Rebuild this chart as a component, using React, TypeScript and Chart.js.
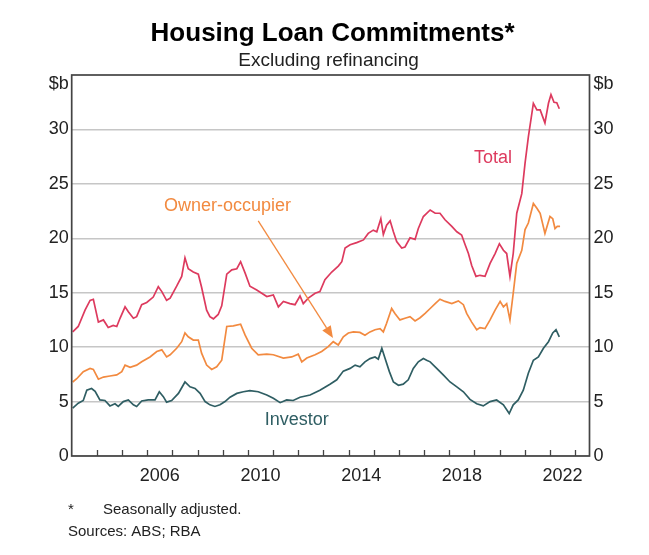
import React, { useEffect, useRef } from "react";
import { Chart, registerables } from "chart.js";

Chart.register(...registerables);

const FONT = "'Liberation Sans', Arial, Helvetica, sans-serif";

const TITLE = "Housing Loan Commitments*";
const SUBTITLE = "Excluding refinancing";
const FOOT_MARK = "*";
const FOOT_NOTE = "Seasonally adjusted.";
const SOURCES = "Sources: ABS; RBA";
const UNIT_LABEL = "$b";

const yTicks = [0, 5, 10, 15, 20, 25, 30];
const xLabelYears = [2006, 2010, 2014, 2018, 2022];
const xTickYears = [2004, 2005, 2006, 2007, 2008, 2009, 2010, 2011, 2012, 2013, 2014, 2015, 2016, 2017, 2018, 2019, 2020, 2021, 2022, 2023];

const COLOR_TOTAL = "#DD3A5E";
const COLOR_OO = "#F28A40";
const COLOR_INV = "#2F5E63";
const AXIS_COLOR = "#444444";
const GRID_COLOR = "#c6c6c6";
const TEXT_COLOR = "#222222";

const totalYears = [2003.04,2003.26,2003.53,2003.73,2003.86,2004.06,2004.26,2004.45,2004.65,2004.79,2004.92,2005.12,2005.25,2005.45,2005.58,2005.78,2005.98,2006.24,2006.44,2006.58,2006.77,2006.91,2007.17,2007.37,2007.50,2007.63,2007.83,2008.03,2008.16,2008.36,2008.49,2008.63,2008.82,2008.96,2009.16,2009.36,2009.56,2009.71,2009.89,2010.08,2010.35,2010.55,2010.75,2011.01,2011.21,2011.41,2011.67,2011.87,2012.07,2012.20,2012.40,2012.67,2012.86,2013.06,2013.33,2013.59,2013.73,2013.86,2014.06,2014.32,2014.59,2014.78,2014.98,2015.12,2015.28,2015.38,2015.51,2015.65,2015.78,2015.91,2016.11,2016.24,2016.44,2016.64,2016.77,2016.97,2017.24,2017.44,2017.63,2017.83,2018.10,2018.30,2018.49,2018.63,2018.76,2018.89,2019.06,2019.22,2019.42,2019.62,2019.82,2019.99,2020.15,2020.28,2020.41,2020.54,2020.68,2020.88,2021.01,2021.14,2021.34,2021.48,2021.61,2021.80,2021.94,2022.04,2022.16,2022.27,2022.37];
const totalValues = [11.4,11.9,13.4,14.3,14.4,12.3,12.5,11.8,12.0,11.9,12.65,13.7,13.25,12.65,12.8,13.9,14.1,14.6,15.55,15.1,14.3,14.5,15.6,16.5,18.2,17.2,16.9,16.7,15.5,13.4,12.8,12.6,13.0,13.8,16.7,17.1,17.2,17.85,16.8,15.6,15.25,14.95,14.65,14.8,13.7,14.2,14.0,13.9,14.7,14.0,14.5,14.95,15.1,16.2,16.9,17.45,17.85,19.1,19.4,19.6,19.85,20.45,20.75,20.6,21.8,20.35,21.2,21.6,20.6,19.7,19.1,19.2,20.05,19.9,20.9,22.0,22.6,22.3,22.3,21.7,21.1,20.6,20.3,19.4,18.6,17.5,16.5,16.6,16.5,17.7,18.6,19.5,18.9,18.6,16.5,18.6,22.3,24.1,26.9,29.3,32.4,31.8,31.8,30.6,32.4,33.2,32.5,32.45,31.9];

const ooYears = [2003.04,2003.20,2003.46,2003.73,2003.86,2004.06,2004.26,2004.52,2004.79,2004.99,2005.12,2005.32,2005.58,2005.78,2006.11,2006.38,2006.58,2006.77,2006.91,2007.17,2007.37,2007.50,2007.63,2007.83,2008.03,2008.16,2008.36,2008.56,2008.76,2008.96,2009.16,2009.42,2009.71,2009.89,2010.15,2010.41,2010.75,2011.01,2011.41,2011.74,2012.00,2012.14,2012.34,2012.67,2012.93,2013.19,2013.39,2013.59,2013.79,2013.99,2014.19,2014.45,2014.65,2014.85,2015.05,2015.25,2015.38,2015.51,2015.71,2015.84,2016.04,2016.24,2016.44,2016.64,2016.84,2017.04,2017.24,2017.44,2017.63,2017.83,2018.10,2018.36,2018.56,2018.69,2018.89,2019.09,2019.22,2019.42,2019.62,2019.82,2020.02,2020.15,2020.28,2020.41,2020.54,2020.68,2020.88,2021.01,2021.14,2021.34,2021.48,2021.61,2021.80,2022.00,2022.11,2022.20,2022.29,2022.40];
const ooValues = [6.8,7.1,7.75,8.05,7.95,7.05,7.25,7.35,7.45,7.75,8.35,8.15,8.35,8.65,9.1,9.6,9.75,9.1,9.3,9.9,10.5,11.3,10.95,10.65,10.65,9.45,8.35,7.95,8.2,8.8,11.9,11.95,12.1,11.1,9.9,9.3,9.35,9.3,9.0,9.1,9.35,8.65,9.0,9.3,9.6,10.05,10.5,10.2,10.95,11.3,11.4,11.35,11.1,11.4,11.6,11.7,11.4,12.2,13.55,13.1,12.5,12.65,12.8,12.4,12.7,13.1,13.55,14.0,14.4,14.2,14.0,14.25,13.9,13.1,12.3,11.6,11.8,11.7,12.5,13.4,14.2,13.7,14.0,12.5,14.95,17.7,18.9,20.8,21.4,23.2,22.75,22.3,20.45,22.0,21.8,20.9,21.1,21.1];

const invYears = [2003.04,2003.26,2003.46,2003.60,2003.79,2003.93,2004.12,2004.32,2004.52,2004.72,2004.85,2005.05,2005.25,2005.45,2005.58,2005.78,2006.04,2006.31,2006.48,2006.64,2006.77,2006.97,2007.24,2007.50,2007.70,2007.90,2008.10,2008.30,2008.49,2008.69,2008.89,2009.09,2009.29,2009.56,2009.82,2010.08,2010.41,2010.75,2011.01,2011.28,2011.54,2011.80,2012.07,2012.47,2012.86,2013.26,2013.53,2013.79,2014.06,2014.26,2014.45,2014.65,2014.85,2015.05,2015.18,2015.32,2015.45,2015.62,2015.78,2015.98,2016.17,2016.37,2016.57,2016.77,2016.97,2017.10,2017.24,2017.50,2017.76,2018.03,2018.30,2018.56,2018.82,2019.09,2019.35,2019.62,2019.88,2020.15,2020.38,2020.54,2020.74,2020.94,2021.14,2021.34,2021.54,2021.74,2021.94,2022.11,2022.24,2022.37];
const invValues = [4.4,4.85,5.1,6.05,6.2,5.95,5.15,5.1,4.6,4.8,4.55,5.0,5.15,4.7,4.55,5.05,5.15,5.15,5.9,5.45,4.95,5.1,5.75,6.8,6.35,6.2,5.75,5.0,4.7,4.55,4.7,5.0,5.4,5.75,5.9,6.0,5.9,5.6,5.3,4.9,5.15,5.1,5.4,5.6,6.05,6.6,7.0,7.8,8.05,8.35,8.2,8.65,8.95,9.1,8.9,9.9,8.95,7.75,6.8,6.5,6.6,7.0,8.05,8.65,8.95,8.8,8.65,8.05,7.45,6.8,6.35,5.9,5.2,4.8,4.6,5.0,5.15,4.7,3.9,4.7,5.15,6.05,7.6,8.8,9.1,9.9,10.5,11.3,11.6,10.95];

// series labels: [text, year, value, colour]
const seriesLabels: [string, number, number, string][] = [
  ["Total", 2019.74, 27.33, COLOR_TOTAL],
  ["Owner-occupier", 2009.19, 22.97, COLOR_OO],
  ["Investor", 2011.94, 3.31, COLOR_INV],
];
// arrow from label to owner-occupier line: [year, value]
const arrowFrom = [2010.41, 21.6];
const arrowTo = [2013.38, 10.84];

const X_MIN = 2003.0;
const X_MAX = 2023.57;
const Y_MIN = 0;
const Y_MAX = 35;

function pairs(xs: number[], ys: number[]) {
  const n = Math.min(xs.length, ys.length);
  const out: { x: number; y: number }[] = [];
  for (let i = 0; i < n; i++) out.push({ x: xs[i], y: ys[i] });
  return out;
}

const decorPlugin = {
  id: "decor",
  beforeDraw(chart: any) {
    const { ctx, width, height } = chart;
    ctx.save();
    ctx.fillStyle = "#ffffff";
    ctx.fillRect(0, 0, width, height);
    ctx.restore();
  },
  afterDraw(chart: any) {
    const { ctx, chartArea: a, scales } = chart;
    const xs = scales.x;
    const ys = scales.y;
    ctx.save();
    // year tick marks (inside)
    ctx.strokeStyle = AXIS_COLOR;
    ctx.lineWidth = 1.3;
    for (const yr of xTickYears) {
      const px = Math.round(xs.getPixelForValue(yr)) + 0.5;
      ctx.beginPath();
      ctx.moveTo(px, a.bottom);
      ctx.lineTo(px, a.bottom - 6);
      ctx.stroke();
    }
    // frame
    ctx.lineWidth = 1.7;
    ctx.strokeRect(a.left, a.top, a.right - a.left, a.bottom - a.top);

    // unit labels
    ctx.fillStyle = TEXT_COLOR;
    ctx.font = `18px ${FONT}`;
    ctx.textBaseline = "middle";
    ctx.textAlign = "right";
    ctx.fillText(UNIT_LABEL, a.left - 3, a.top + 9);
    ctx.textAlign = "left";
    ctx.fillText(UNIT_LABEL, a.right + 4, a.top + 9);

    // title & subtitle
    const cx = (a.left + a.right) / 2 + 1;
    ctx.textAlign = "center";
    ctx.textBaseline = "alphabetic";
    ctx.fillStyle = "#000000";
    ctx.font = `bold 26px ${FONT}`;
    ctx.fillText(TITLE, cx + 1, 41);
    ctx.fillStyle = TEXT_COLOR;
    ctx.font = `19px ${FONT}`;
    ctx.fillText(SUBTITLE, cx - 3, 66);

    // series labels
    ctx.font = `18px ${FONT}`;
    ctx.textBaseline = "middle";
    for (const [txt, yr, val, col] of seriesLabels) {
      ctx.fillStyle = col;
      ctx.fillText(txt, xs.getPixelForValue(yr), ys.getPixelForValue(val));
    }

    // arrow
    const x1 = xs.getPixelForValue(arrowFrom[0]);
    const y1 = ys.getPixelForValue(arrowFrom[1]);
    const x2 = xs.getPixelForValue(arrowTo[0]);
    const y2 = ys.getPixelForValue(arrowTo[1]);
    const ang = Math.atan2(y2 - y1, x2 - x1);
    const headLen = 12;
    const headW = 5;
    ctx.strokeStyle = COLOR_OO;
    ctx.fillStyle = COLOR_OO;
    ctx.lineWidth = 1.3;
    ctx.beginPath();
    ctx.moveTo(x1, y1);
    ctx.lineTo(x2 - Math.cos(ang) * headLen, y2 - Math.sin(ang) * headLen);
    ctx.stroke();
    ctx.beginPath();
    ctx.moveTo(x2, y2);
    const bx = x2 - Math.cos(ang) * headLen;
    const by = y2 - Math.sin(ang) * headLen;
    ctx.lineTo(bx + Math.sin(ang) * headW, by - Math.cos(ang) * headW);
    ctx.lineTo(bx - Math.sin(ang) * headW, by + Math.cos(ang) * headW);
    ctx.closePath();
    ctx.fill();

    // footnotes
    ctx.fillStyle = TEXT_COLOR;
    ctx.textAlign = "left";
    ctx.textBaseline = "alphabetic";
    ctx.font = `15px ${FONT}`;
    ctx.fillText(FOOT_MARK, 68, 514);
    ctx.fillText(FOOT_NOTE, 103, 514);
    ctx.fillText(SOURCES, 68, 536);
    ctx.restore();
  },
};

export default function App() {
  const canvasRef = useRef<HTMLCanvasElement | null>(null);

  useEffect(() => {
    document.body.style.margin = "0";
    const canvas = canvasRef.current;
    if (!canvas) return;
    const lineDs = (label: string, xs: number[], ys: number[], color: string) => ({
      label,
      data: pairs(xs, ys),
      borderColor: color,
      backgroundColor: color,
      borderWidth: 1.7,
      pointRadius: 0,
      tension: 0,
      fill: false,
      yAxisID: "y",
    });
    const chart = new Chart(canvas, {
      type: "line",
      data: {
        datasets: [
          lineDs("Total", totalYears, totalValues, COLOR_TOTAL),
          lineDs("Owner-occupier", ooYears, ooValues, COLOR_OO),
          lineDs("Investor", invYears, invValues, COLOR_INV),
        ],
      },
      options: {
        animation: false,
        responsive: false,
        devicePixelRatio: 1,
        parsing: false as any,
        normalized: true,
        layout: { padding: { top: 75, left: 0, right: 0, bottom: 0 } },
        plugins: {
          legend: { display: false },
          title: { display: false },
          tooltip: { enabled: false },
        },
        scales: {
          x: {
            type: "linear",
            min: X_MIN,
            max: X_MAX,
            grid: { display: false, drawTicks: false },
            border: { display: false },
            afterBuildTicks: (s: any) => {
              s.ticks = xLabelYears.map((y) => ({ value: y + 0.5 }));
            },
            afterFit: (s: any) => {
              s.height = 99;
            },
            ticks: {
              autoSkip: false,
              maxRotation: 0,
              minRotation: 0,
              padding: 9,
              color: TEXT_COLOR,
              font: { family: FONT, size: 18 },
              callback: (v: any) => String(Math.floor(Number(v))),
            },
          },
          y: {
            type: "linear",
            position: "left",
            min: Y_MIN,
            max: Y_MAX,
            grid: { display: true, drawTicks: false, color: GRID_COLOR, lineWidth: 1.4 },
            border: { display: false },
            afterBuildTicks: (s: any) => {
              s.ticks = yTicks.map((v) => ({ value: v }));
            },
            afterFit: (s: any) => {
              s.width = 71.7;
            },
            ticks: {
              padding: 3,
              color: TEXT_COLOR,
              font: { family: FONT, size: 18 },
              callback: (v: any) => String(v),
            },
          },
          y2: {
            type: "linear",
            position: "right",
            min: Y_MIN,
            max: Y_MAX,
            grid: { display: false, drawOnChartArea: false, drawTicks: false },
            border: { display: false },
            afterBuildTicks: (s: any) => {
              s.ticks = yTicks.map((v) => ({ value: v }));
            },
            afterFit: (s: any) => {
              s.width = 59.5;
            },
            ticks: {
              padding: 4,
              color: TEXT_COLOR,
              font: { family: FONT, size: 18 },
              callback: (v: any) => String(v),
            },
          },
        },
      },
      plugins: [decorPlugin],
    });
    return () => chart.destroy();
  }, []);

  return (
    <div style={{ width: 649, height: 555 }}>
      <canvas ref={canvasRef} width={649} height={555} style={{ display: "block", width: 649, height: 555 }} />
    </div>
  );
}
